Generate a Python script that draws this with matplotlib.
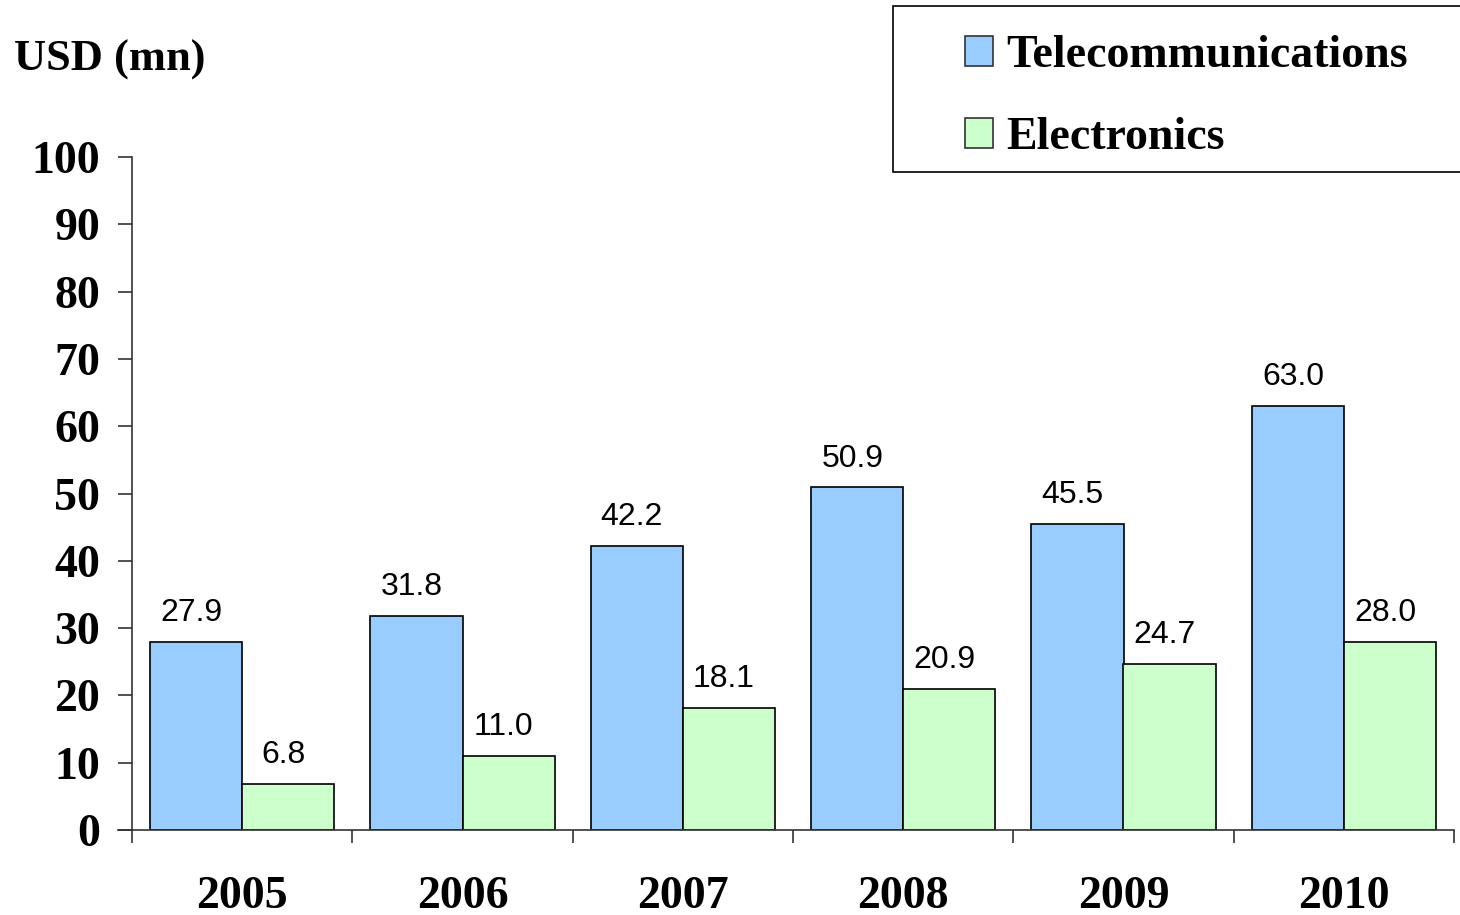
import matplotlib
matplotlib.use("Agg")
import matplotlib.pyplot as plt
from matplotlib.patches import Rectangle, Patch
from matplotlib.lines import Line2D
import numpy as np

years = ["2005", "2006", "2007", "2008", "2009", "2010"]
telecom = [27.9, 31.8, 42.2, 50.9, 45.5, 63.0]
electronics = [6.8, 11.0, 18.1, 20.9, 24.7, 28.0]
series_names = ["Telecommunications", "Electronics"]
yticks = [0, 10, 20, 30, 40, 50, 60, 70, 80, 90, 100]

blue = "#99CCFF"
green = "#CCFFCC"
serif = ["Liberation Serif", "DejaVu Serif"]
sans = ["Liberation Sans", "DejaVu Sans"]

fig = plt.figure(figsize=(14.6, 9.15), dpi=100)
ax = fig.add_axes([132/1460, 1-830/915, 1322/1460, 673/915])

x = np.arange(len(years))
w = 0.418
b1 = ax.bar(x - 0.209, telecom, w, color=blue, edgecolor="black", linewidth=1.2)
b2 = ax.bar(x + 0.209, electronics, w, color=green, edgecolor="black", linewidth=1.2)

for bars, vals in ((b1, telecom), (b2, electronics)):
    for r, v in zip(bars, vals):
        ax.annotate(f"{v:.1f}", (r.get_x() + r.get_width()/2, v),
                    xytext=(-3.5, 10), textcoords="offset points",
                    ha="center", va="bottom", fontsize=23, family=sans)

ax.set_xlim(-0.5, len(years) - 0.5)
ax.set_ylim(0, 100)
ax.set_yticks(yticks)
ax.set_yticklabels([str(t) for t in yticks], fontsize=33, fontweight="bold", family=serif)
ax.tick_params(axis="y", direction="out", length=10, width=1.2, pad=13, color="#333333")

ax.set_xticks(x)
ax.set_xticklabels(years, fontsize=33, fontweight="bold", family=serif)
ax.tick_params(axis="x", which="major", length=0, pad=33)
ax.set_xticks(np.arange(len(years) + 1) - 0.5, minor=True)
ax.tick_params(axis="x", which="minor", direction="out", length=9, width=1.2, color="#333333")

for s in ("top", "right"):
    ax.spines[s].set_visible(False)
ax.spines["left"].set_linewidth(1.2)
ax.spines["bottom"].set_linewidth(1.2)
ax.spines["left"].set_color("#333333")
ax.spines["bottom"].set_color("#333333")
ax.add_line(Line2D([-14/1322, 0], [0, 0], transform=ax.transAxes, color="#333333",
                   linewidth=1.2, clip_on=False))

fig.text(14/1460, 1-60/915, "USD (mn)", fontsize=32, fontweight="bold", family=serif,
         ha="left", va="center")

# legend frame
fig.patches.append(Rectangle((893/1460, 1-172/915), 580/1460, 166/915,
                             transform=fig.transFigure, facecolor="white",
                             edgecolor="black", linewidth=1.2))
handles = [Patch(facecolor=blue, edgecolor="#333333", linewidth=1.2),
           Patch(facecolor=green, edgecolor="#333333", linewidth=1.2)]
leg = fig.legend(handles, series_names, loc="upper left",
                 bbox_to_anchor=(965/1460, 1-35/915), frameon=False,
                 prop={"family": serif, "weight": "bold", "size": 33},
                 handlelength=0.61, handleheight=0.61, handletextpad=0.3,
                 labelspacing=0.88, borderpad=0, borderaxespad=0)

fig.savefig("out.png", dpi=100)
